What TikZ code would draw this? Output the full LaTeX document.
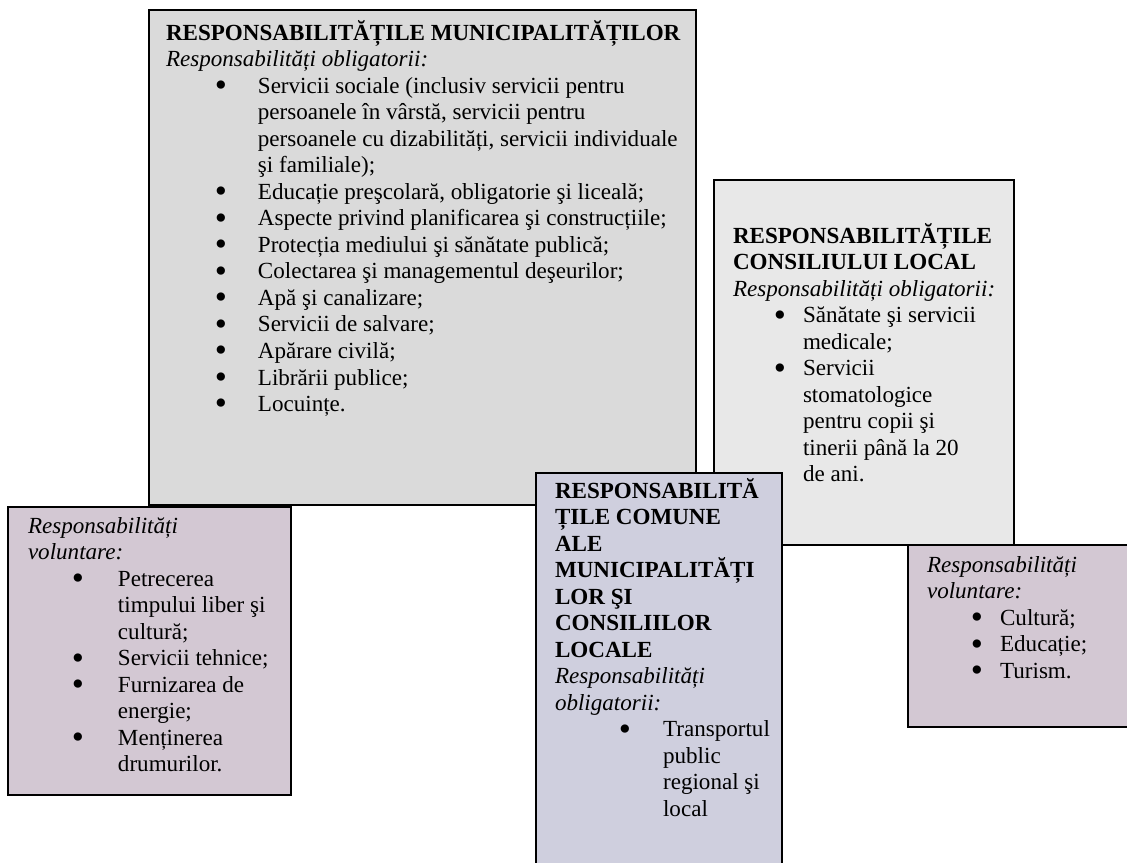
\documentclass[tikz,border=0pt]{standalone}
\usepackage{fontspec}
\setmainfont{Liberation Serif}

\definecolor{munifill}{RGB}{218,218,218}
\definecolor{councilfill}{RGB}{232,232,232}
\definecolor{volfill}{RGB}{211,200,211}
\definecolor{jointfill}{RGB}{207,207,222}

% a large round bullet, centred on the current point
\newcommand\bigbullet{\makebox[0pt]{\raisebox{-0.15em}{\scalebox{1.5}{\textbullet}}}}
% bullet centred at #1, item text starting #2 further right
\newcommand\bul[3]{\hspace*{#1}\bigbullet\hspace*{#2}#3}
% continuation line of an item, indented by #1
\newcommand\cnt[2]{\hspace*{#1}#2}
% text block: first baseline sits on the node's base anchor
\newcommand\block[1]{\parbox[t]{330pt}{\fontsize{12pt}{13.8pt}\selectfont\raggedright #1}}

\begin{document}
\begin{tikzpicture}[x=0.52pt,y=-0.52pt,
  panel/.style={draw=black, line width=0.9pt, anchor=north west,
                inner sep=0pt, outer sep=0pt},
  txt/.style={anchor=base west, inner sep=0pt, outer sep=0pt}]
\useasboundingbox (0,0) rectangle (1127,863);
\clip (0,0) rectangle (1127,863);

% panels, back to front
\node[panel, fill=munifill, minimum width=547*0.52pt, minimum height=495*0.52pt]
  (muni) at (149,10) {};
\node[panel, fill=councilfill, minimum width=300*0.52pt, minimum height=365*0.52pt]
  (council) at (714,180) {};
\node[panel, fill=volfill, minimum width=283*0.52pt, minimum height=288*0.52pt]
  (munivol) at (8,507) {};
\node[panel, fill=volfill, minimum width=240*0.52pt, minimum height=182*0.52pt]
  (councilvol) at (908,545) {};
\node[panel, fill=jointfill, minimum width=246*0.52pt, minimum height=420*0.52pt]
  (joint) at (536,473) {};

% municipalities
\node[txt] (munitext) at (166,40) {\block{%
\textbf{RESPONSABILITĂȚILE MUNICIPALITĂȚILOR}\\
\textit{Responsabilități obligatorii:}\\
\bul{28.6pt}{19.2pt}{Servicii sociale (inclusiv servicii pentru}\\
\cnt{47.8pt}{persoanele în vârstă, servicii pentru}\\
\cnt{47.8pt}{persoanele cu dizabilități, servicii individuale}\\
\cnt{47.8pt}{şi familiale);}\\
\bul{28.6pt}{19.2pt}{Educație preşcolară, obligatorie şi liceală;}\\
\bul{28.6pt}{19.2pt}{Aspecte privind planificarea şi construcțiile;}\\
\bul{28.6pt}{19.2pt}{Protecția mediului şi sănătate publică;}\\
\bul{28.6pt}{19.2pt}{Colectarea şi managementul deşeurilor;}\\
\bul{28.6pt}{19.2pt}{Apă şi canalizare;}\\
\bul{28.6pt}{19.2pt}{Servicii de salvare;}\\
\bul{28.6pt}{19.2pt}{Apărare civilă;}\\
\bul{28.6pt}{19.2pt}{Librării publice;}\\
\bul{28.6pt}{19.2pt}{Locuințe.}}};

% local council
\node[txt] (counciltext) at (733,243) {\block{%
\textbf{RESPONSABILITĂȚILE}\\
\textbf{CONSILIULUI LOCAL}\\
\textit{Responsabilități obligatorii:}\\
\bul{24.4pt}{12pt}{Sănătate şi servicii}\\
\cnt{36.4pt}{medicale;}\\
\bul{24.4pt}{12pt}{Servicii}\\
\cnt{36.4pt}{stomatologice}\\
\cnt{36.4pt}{pentru copii şi}\\
\cnt{36.4pt}{tinerii până la 20}\\
\cnt{36.4pt}{de ani.}}};

% municipalities, voluntary
\node[txt] (munivoltext) at (28,533) {\block{%
\textit{Responsabilități}\\
\textit{voluntare:}\\
\bul{26pt}{20.8pt}{Petrecerea}\\
\cnt{46.8pt}{timpului liber şi}\\
\cnt{46.8pt}{cultură;}\\
\bul{26pt}{20.8pt}{Servicii tehnice;}\\
\bul{26pt}{20.8pt}{Furnizarea de}\\
\cnt{46.8pt}{energie;}\\
\bul{26pt}{20.8pt}{Menținerea}\\
\cnt{46.8pt}{drumurilor.}}};

% local council, voluntary
\node[txt] (councilvoltext) at (927,572) {\block{%
\textit{Responsabilități}\\
\textit{voluntare:}\\
\bul{26pt}{12pt}{Cultură;}\\
\bul{26pt}{12pt}{Educație;}\\
\bul{26pt}{12pt}{Turism.}}};

% shared responsibilities
\node[txt] (jointtext) at (555,498) {\block{%
\textbf{RESPONSABILITĂ}\\
\textbf{ȚILE COMUNE}\\
\textbf{ALE}\\
\textbf{MUNICIPALITĂȚI}\\
\textbf{LOR ŞI}\\
\textbf{CONSILIILOR}\\
\textbf{LOCALE}\\
\textit{Responsabilități}\\
\textit{obligatorii:}\\
\bul{36.4pt}{19.8pt}{Transportul}\\
\cnt{56.2pt}{public}\\
\cnt{56.2pt}{regional şi}\\
\cnt{56.2pt}{local}}};
\end{tikzpicture}
\end{document}
